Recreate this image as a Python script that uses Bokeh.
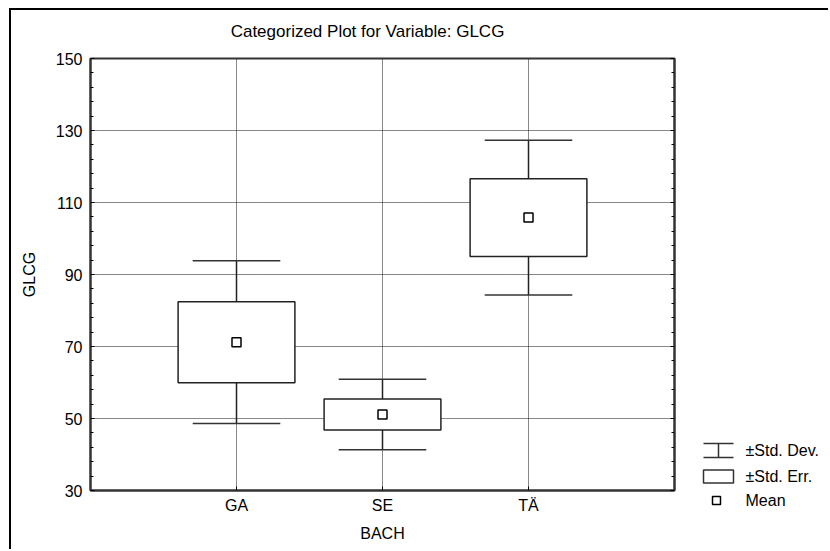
from bokeh.plotting import figure
from bokeh.models import ColumnDataSource, Range1d, LinearAxis, FixedTicker
from bokeh.layouts import row, column
from bokeh.embed import file_html
from bokeh.resources import INLINE
from bokeh.core.properties import value

# ---- data ----
categories = ["GA", "SE", "TÄ"]
means = [71.2, 51.1, 105.8]
std_err = [11.25, 4.3, 10.8]
std_dev = [22.6, 9.8, 21.5]
y_ticks = [30, 50, 70, 90, 110, 130, 150]
y_minor_step = 4
legend_labels = ["±Std. Dev.", "±Std. Err.", "Mean"]

title_text = "Categorized Plot for Variable: GLCG"
x_title = "BACH"
y_title = "GLCG"

FONT = "Liberation Sans"
FRAME = "#333333"

xs = [i + 1 for i in range(len(categories))]
box_w = 0.8
cap_w = 0.6
src = ColumnDataSource(dict(
    x=xs,
    mean=means,
    se_lo=[m - s for m, s in zip(means, std_err)],
    se_hi=[m + s for m, s in zip(means, std_err)],
    sd_lo=[m - s for m, s in zip(means, std_dev)],
    sd_hi=[m + s for m, s in zip(means, std_dev)],
    box_l=[x - box_w / 2 for x in xs],
    box_r=[x + box_w / 2 for x in xs],
    cap_l=[x - cap_w / 2 for x in xs],
    cap_r=[x + cap_w / 2 for x in xs],
))

minor = [v for v in range(y_ticks[0], y_ticks[-1] + 1, y_minor_step) if v not in y_ticks]

TOTAL_W = 817
TOP_H = 36
H = 503
PW = 673
LW = TOTAL_W - PW


def blank(w, h):
    f = figure(width=w, height=h, output_backend="svg", toolbar_location=None,
               x_range=Range1d(0, w), y_range=Range1d(h, 0),
               x_axis_location=None, y_axis_location=None,
               min_border=0, outline_line_color=None)
    f.frame_align = False
    f.grid.visible = False
    f.background_fill_color = "white"
    f.border_fill_color = "white"
    return f


# ---- title strip ----
top = blank(TOTAL_W, TOP_H)
top.text(x=[356], y=[21], text=[title_text], text_font=value(FONT),
         text_font_size="17px", text_align="center", text_baseline="middle",
         text_color="black")

# ---- main plot ----
p = figure(width=PW, height=H, output_backend="svg", toolbar_location=None,
           x_range=Range1d(0, len(categories) + 1),
           y_range=Range1d(y_ticks[0], y_ticks[-1]),
           min_border_left=79, min_border_top=12, min_border_right=10,
           min_border_bottom=59)
p.frame_align = False

p.background_fill_color = "white"
p.border_fill_color = "white"
p.outline_line_color = FRAME
p.outline_line_width = 2

# axes
xax = p.xaxis[0]
xax.ticker = FixedTicker(ticks=xs, minor_ticks=[])
xax.major_label_overrides = {x: c for x, c in zip(xs, categories)}
yax = p.yaxis[0]
yax.ticker = FixedTicker(ticks=y_ticks, minor_ticks=minor)

for ax in (xax, yax):
    ax.axis_line_color = FRAME
    ax.axis_line_width = 2
    ax.major_tick_line_color = "black"
    ax.minor_tick_line_color = "black"
    ax.major_tick_in = 4
    ax.major_tick_out = 0
    ax.minor_tick_in = 3
    ax.minor_tick_out = 0
    ax.major_label_text_font = FONT
    ax.major_label_text_font_size = "16px"
    ax.major_label_text_color = "black"
    ax.axis_label_text_font = FONT
    ax.axis_label_text_font_size = "16px"
    ax.axis_label_text_font_style = "normal"
    ax.axis_label_text_color = "black"

xax.axis_label = x_title
xax.major_label_standoff = 6
xax.axis_label_standoff = 8
yax.axis_label = y_title
yax.major_label_standoff = 8
yax.axis_label_standoff = 15

rax = LinearAxis(ticker=FixedTicker(ticks=y_ticks, minor_ticks=minor))
rax.axis_line_color = FRAME
rax.axis_line_width = 2
rax.major_tick_in = 4
rax.major_tick_out = 0
rax.minor_tick_in = 3
rax.minor_tick_out = 0
rax.major_label_overrides = {t: "" for t in y_ticks}
rax.major_label_standoff = 0
p.add_layout(rax, "right")

# grid
p.xgrid.ticker = FixedTicker(ticks=xs)
p.ygrid.ticker = FixedTicker(ticks=y_ticks)
for g in (p.xgrid[0], p.ygrid[0]):
    g.grid_line_color = "#111111"
    g.grid_line_dash = "1 1"
    g.grid_line_width = 1

# whiskers (std dev)
p.segment(x0="x", y0="sd_lo", x1="x", y1="sd_hi", source=src,
          line_color="#222222", line_width=1.5)
p.segment(x0="cap_l", y0="sd_hi", x1="cap_r", y1="sd_hi", source=src,
          line_color="#333333", line_width=1.5)
p.segment(x0="cap_l", y0="sd_lo", x1="cap_r", y1="sd_lo", source=src,
          line_color="#333333", line_width=1.5)
# boxes (std err)
p.quad(left="box_l", right="box_r", bottom="se_lo", top="se_hi", source=src,
       fill_color="white", line_color="#222222", line_width=1.5)
# means
p.scatter(x="x", y="mean", source=src, marker="square", size=9,
          fill_color="white", line_color="black", line_width=1.5)

# ---- legend panel (to the right of the frame) ----
lg = blank(LW, H)
sym_l, sym_r, sym_c = 19, 49, 34
row_y = [404, 430, 454]
# std dev symbol
lg.segment(x0=[sym_l, sym_l, sym_c], y0=[row_y[0] - 7, row_y[0] + 7, row_y[0] - 7],
           x1=[sym_r, sym_r, sym_c], y1=[row_y[0] - 7, row_y[0] + 7, row_y[0] + 7],
           line_color="#333333", line_width=1.5)
# std err symbol
lg.quad(left=[sym_l], right=[sym_r], top=[row_y[1] - 6.5], bottom=[row_y[1] + 6.5],
        fill_color="white", line_color="#333333", line_width=1.5)
# mean symbol
lg.scatter(x=[sym_c - 2], y=[row_y[2]], marker="square", size=8,
           fill_color="white", line_color="black", line_width=1.5)
lg.text(x=[61, 61, 61], y=row_y, text=legend_labels, text_font=value(FONT),
        text_font_size="16px", text_baseline="middle", text_align="left",
        text_color="black")

layout = column(top, row(p, lg, spacing=0), spacing=0,
                styles={"margin-left": "9px", "margin-top": "8px",
                        "border-left": "2px solid black", "border-top": "2px solid black"})

open("out.html", "w").write(file_html(layout, INLINE))
